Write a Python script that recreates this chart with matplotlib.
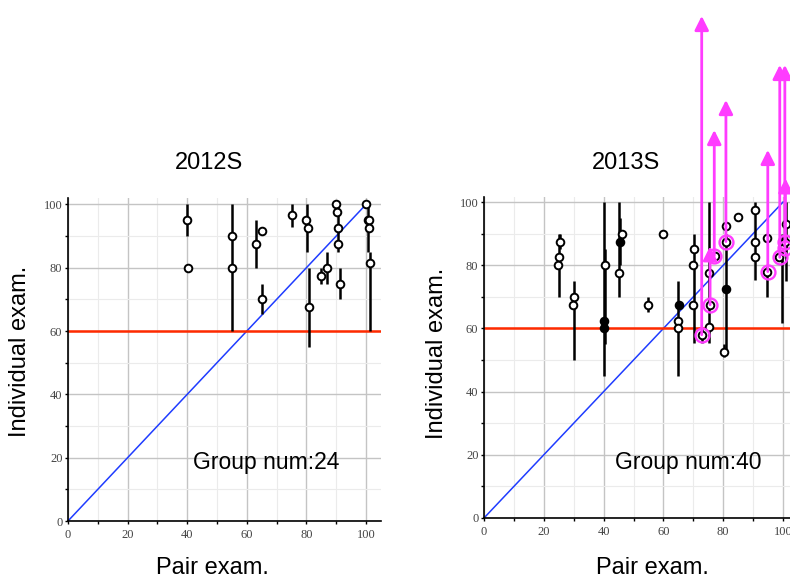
import matplotlib
matplotlib.use("Agg")
import matplotlib.pyplot as plt
from matplotlib.ticker import MultipleLocator

# ---- data: 2012S ----
pts12_x = [40, 40.3, 55, 55, 63, 65, 65.2, 75, 80, 80.5, 81, 85, 87, 90, 90.2, 90.5,
           90.6, 91.4, 100, 100.5, 101, 100.9, 101.3]
pts12_y = [95, 80, 90, 80, 87.5, 91.5, 70, 96.5, 95, 92.5, 67.5, 77.5, 80, 100, 97.5, 92.5,
           87.5, 75, 100, 95, 95, 92.5, 81.5]
bar12_x = [40, 55, 63, 65.2, 75, 80.2, 81, 85, 87, 90.5, 91.2, 100.5, 101.3]
bar12_lo = [90, 60, 80, 65.4, 93, 85, 55, 75, 75, 85, 70, 85, 60]
bar12_hi = [100, 100, 95, 74.8, 100, 100, 80, 80, 85, 100, 80, 100, 85]

# ---- data: 2013S ----
pts13_x = [24.9, 25, 25.5, 30, 29.8, 40.3, 40, 40, 45, 45.4, 46, 55, 60, 65.2, 65, 65,
           70.3, 70, 70, 72.8, 75.4, 75.6, 75.3, 77.2, 80.9, 80.9, 80.9, 80.1, 85, 90.6,
           90.6, 90.6, 94.8, 94.8, 98.8, 100.1, 101, 100.6]
pts13_y = [80, 82.5, 87.5, 70, 67.5, 80, 62.5, 60, 77.5, 87.5, 90, 67.5, 90, 67.5, 62.5, 60,
           85, 80, 67.5, 58, 77.5, 67.5, 60.5, 83, 92.5, 87.5, 72.5, 52.5, 95.3, 97.5,
           87.5, 82.5, 88.5, 78, 82.5, 85.5, 93, 87.5]
pts13_filled = [0, 0, 0, 0, 0, 0, 1, 1, 0, 1, 0, 0, 0, 1, 0, 0,
                0, 0, 0, 0, 0, 0, 0, 0, 0, 0, 1, 0, 0, 0,
                0, 0, 0, 0, 0, 0, 0, 0]
bar13_x = [25, 25.5, 30, 40, 40.3, 45.3, 45.6, 55, 65, 70.2, 72.8, 75.3, 81, 80.1,
           90.6, 94.8, 99.5, 101]
bar13_lo = [70, 85, 50, 45, 55, 70, 80, 65.3, 45, 55.4, 55.5, 55.4, 53, 51,
            75.3, 70, 61.7, 75]
bar13_hi = [90, 90, 75, 100, 85, 100, 95, 70, 75, 90, 60, 100, 90, 55,
            100, 80, 90, 100]

# improved groups (magenta arrows)
arr_x = [72.8, 75.6, 77.0, 80.9, 94.9, 98.9, 100.6, 100.8]
arr_y0 = [58, 67.5, 83, 87.5, 78, 82.5, 85.5, 87.5]
arr_y1 = [158.9, 86, 122.8, 132.3, 116.5, 143.4, 143.4, 107.5]

titles = ["2012S", "2013S"]
group_nums = [24, 40]
pass_line = 60

W, H = 790, 579
fig = plt.figure(figsize=(W / 100, H / 100), dpi=100)


def px(x, y):
    return x / W, 1 - y / H


magenta = "#ff3cff"
tick_font = "Liberation Serif"
label_font = "Liberation Sans"


def setup_axes(ax, ytop):
    ax.set_xlim(0, 105)
    ax.set_ylim(0, ytop)
    ax.xaxis.set_major_locator(MultipleLocator(20))
    ax.xaxis.set_minor_locator(MultipleLocator(10))
    ax.yaxis.set_major_locator(MultipleLocator(20))
    ax.yaxis.set_minor_locator(MultipleLocator(10))
    ax.grid(which="major", color="#c4c4c4", lw=1.0)
    ax.grid(which="minor", color="#ebebeb", lw=0.8)
    ax.set_axisbelow(True)
    for s in ["top", "right"]:
        ax.spines[s].set_visible(False)
    for s in ["left", "bottom"]:
        ax.spines[s].set_linewidth(1.2)
    ax.tick_params(which="both", direction="out", length=2.5, width=1, colors="black",
                   labelcolor="#444444", labelsize=9)
    ax.tick_params(axis="x", pad=3)
    ax.tick_params(axis="y", pad=1.5)
    for lab in ax.get_xticklabels() + ax.get_yticklabels():
        lab.set_fontfamily(tick_font)
    ax.plot([0, 100], [0, 100], color="#1f3cff", lw=1.1, zorder=2)
    ax.axhline(pass_line, color="#ff2a00", lw=1.8, zorder=2)


def draw_points(ax, xs, ys, filled=None):
    for i in range(len(xs)):
        fc = "black" if (filled is not None and filled[i]) else "white"
        ax.plot(xs[i], ys[i], "o", ms=5.5, mfc=fc, mec="black", mew=1.4, zorder=4,
                clip_on=False)


# left panel
ax1 = fig.add_axes([68 / W, 58 / H, 313 / W, 323 / H])
setup_axes(ax1, 102)
ax1.vlines(bar12_x, bar12_lo, bar12_hi, color="black", lw=1.8, zorder=3)
draw_points(ax1, pts12_x, pts12_y)

# right panel (runs past the right edge of the figure)
ax2 = fig.add_axes([484 / W, 61 / H, 314 / W, 321 / H])
setup_axes(ax2, 101.6)
ax2.vlines(bar13_x, bar13_lo, bar13_hi, color="black", lw=1.8, zorder=3)
draw_points(ax2, pts13_x, pts13_y, pts13_filled)

for i in range(len(arr_x)):
    ax2.plot(arr_x[i], arr_y0[i], "o", ms=10, mfc="none", mec=magenta, mew=1.7,
             zorder=5, clip_on=False)
    ax2.annotate("", xy=(arr_x[i], arr_y1[i]), xytext=(arr_x[i], arr_y0[i]),
                 annotation_clip=False,
                 arrowprops=dict(arrowstyle="-|>,head_length=0.7,head_width=0.35",
                                 mutation_scale=12, color=magenta, lw=2.0,
                                 shrinkA=0, shrinkB=0, clip_on=False), zorder=6)

# titles / labels in figure pixels
fig.text(*px(209, 163), titles[0], ha="center", va="center", fontsize=17, family=label_font)
fig.text(*px(626, 163), titles[1], ha="center", va="center", fontsize=17, family=label_font)
fig.text(*px(20, 351), "Individual exam.", rotation=90, ha="center", va="center",
         fontsize=17, family=label_font)
fig.text(*px(437, 353), "Individual exam.", rotation=90, ha="center", va="center",
         fontsize=17, family=label_font)
fig.text(*px(212, 568), "Pair exam.", ha="center", va="center", fontsize=17, family=label_font)
fig.text(*px(652, 568), "Pair exam.", ha="center", va="center", fontsize=17, family=label_font)
fig.text(*px(266, 462), "Group num:%d" % group_nums[0], ha="center", va="center",
         fontsize=16.5, family=label_font)
fig.text(*px(688, 462), "Group num:%d" % group_nums[1], ha="center", va="center",
         fontsize=16.5, family=label_font)

fig.savefig("out.png", dpi=100)
